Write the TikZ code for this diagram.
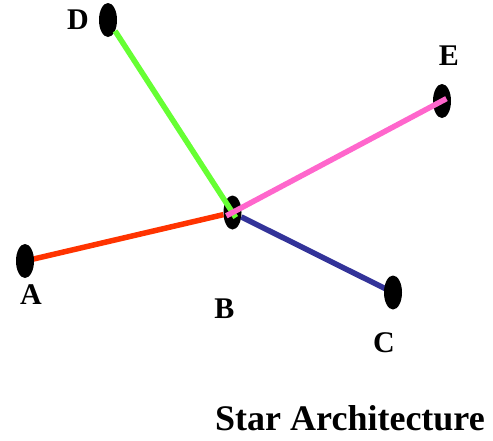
\documentclass[tikz,border=0pt]{standalone}
\usepackage{fontspec}
\setmainfont{Liberation Serif}
\usetikzlibrary{shapes.geometric,calc}
\definecolor{linkred}{HTML}{FF3300}
\definecolor{linkgreen}{HTML}{66FF33}
\definecolor{linkpink}{HTML}{FF66CC}
\definecolor{linkblue}{HTML}{333399}
\tikzset{
  hostnode/.style={ellipse, fill=black, draw=none, inner sep=0pt, minimum width=18pt, minimum height=34pt},
  hostlabel/.style={font=\fontsize{30}{32}\selectfont\bfseries, inner sep=0pt},
  link/.style={line width=5.5pt}
}
\begin{document}
\begin{tikzpicture}[x=1pt,y=-1pt]
\useasboundingbox (0,0) rectangle (493,440);
\node[hostnode] (B) at (232.5,212.5) {};
\node[hostnode] (E) at (442,101) {};
\draw[link, linkred] (25,261) -- (B);
\draw[link, linkblue] (B) -- (393,292.5);
\node[hostnode] (A) at (25,261) {};
\node[hostnode] (C) at (393,292.5) {};
\node[hostnode] (D) at (108,20) {};
\draw[link, linkgreen] (D) -- ($(B.center)!-6pt!(D.center)$);
\draw[link, linkpink] ($(B.center)!-7pt!(E.center)$) -- ($(E.center)!-5pt!(B.center)$);
\node[hostlabel] (lD) at (78,20) {D};
\node[hostlabel] (lE) at (449,56) {E};
\node[hostlabel] (lA) at (31,295) {A};
\node[hostlabel] (lB) at (224.5,308.5) {B};
\node[hostlabel] (lC) at (384,343) {C};
\node[font=\fontsize{36}{40}\selectfont\bfseries, inner sep=0pt] (title) at (350,418) {Star Architecture};
\end{tikzpicture}
\end{document}
